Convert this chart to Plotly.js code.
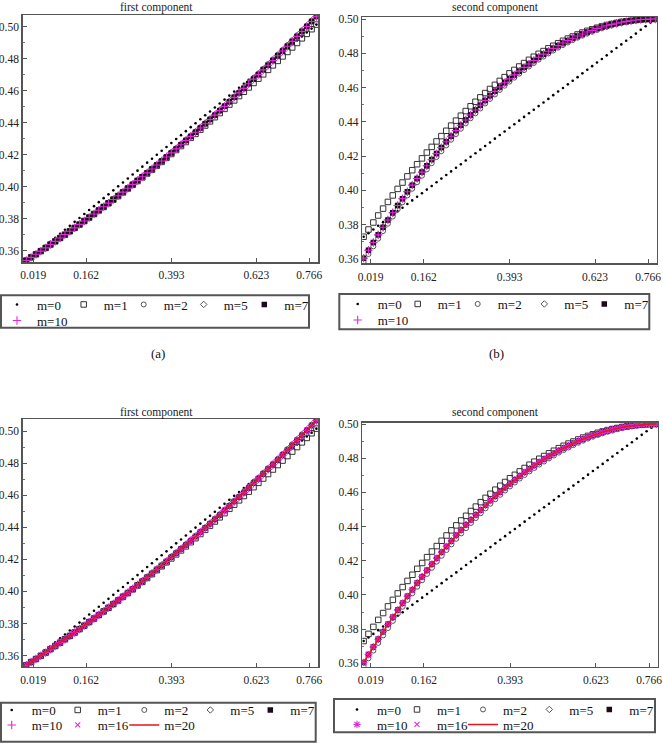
<!DOCTYPE html>
<html>
<head>
<meta charset="utf-8">
<script src="https://cdn.plot.ly/plotly-3.0.1.min.js"></script>
<style>html,body{margin:0;padding:0;background:#fff;}#chart{width:663px;height:747px;}</style>
</head>
<body>
<div id="chart"></div>
<script>
// ---------------- data ----------------
const xValues = [0,0.0131,0.0262,0.0393,0.0524,0.0654,0.0785,0.0916,0.1047,0.1178,0.1309,0.1440,0.1571,0.1702,0.1833,0.1963,0.2094,0.2225,0.2356,0.2487,0.2618,0.2749,0.2880,0.3011,0.3142,0.3272,0.3403,0.3534,0.3665,0.3796,0.3927,0.4058,0.4189,0.4320,0.4451,0.4581,0.4712,0.4843,0.4974,0.5105,0.5236,0.5367,0.5498,0.5629,0.5760,0.5890,0.6021,0.6152,0.6283,0.6414,0.6545,0.6676,0.6807,0.6938,0.7069,0.7199,0.7330,0.7461,0.7592,0.7723,0.7854];

// first component
const firstM0 = [0.3535,0.3560,0.3584,0.3609,0.3634,0.3658,0.3683,0.3708,0.3732,0.3757,0.3782,0.3806,0.3831,0.3856,0.3880,0.3905,0.3930,0.3954,0.3979,0.4004,0.4028,0.4053,0.4078,0.4102,0.4127,0.4152,0.4176,0.4201,0.4226,0.4250,0.4275,0.4300,0.4324,0.4349,0.4374,0.4398,0.4423,0.4448,0.4472,0.4497,0.4522,0.4546,0.4571,0.4596,0.4620,0.4645,0.4670,0.4694,0.4719,0.4744,0.4768,0.4793,0.4818,0.4842,0.4867,0.4892,0.4916,0.4941,0.4966,0.4990,0.5015];
const firstM1 = [0.3540,0.3560,0.3579,0.3599,0.3619,0.3640,0.3660,0.3681,0.3702,0.3723,0.3744,0.3765,0.3787,0.3809,0.3831,0.3853,0.3875,0.3898,0.3921,0.3943,0.3966,0.3990,0.4013,0.4037,0.4060,0.4084,0.4108,0.4133,0.4157,0.4182,0.4206,0.4231,0.4256,0.4281,0.4307,0.4332,0.4358,0.4384,0.4410,0.4436,0.4462,0.4488,0.4515,0.4541,0.4568,0.4595,0.4622,0.4650,0.4677,0.4704,0.4732,0.4760,0.4788,0.4816,0.4844,0.4872,0.4900,0.4929,0.4957,0.4986,0.5015];
const firstM2 = [0.3540,0.3560,0.3579,0.3599,0.3619,0.3640,0.3660,0.3681,0.3702,0.3723,0.3746,0.3768,0.3789,0.3811,0.3833,0.3856,0.3878,0.3901,0.3924,0.3947,0.3970,0.3994,0.4018,0.4042,0.4066,0.4090,0.4114,0.4139,0.4164,0.4189,0.4217,0.4242,0.4268,0.4294,0.4320,0.4346,0.4373,0.4399,0.4426,0.4453,0.4481,0.4508,0.4536,0.4564,0.4592,0.4623,0.4652,0.4681,0.4709,0.4739,0.4768,0.4797,0.4827,0.4857,0.4887,0.4917,0.4948,0.4979,0.5008,0.5039,0.5068];
const firstHigh = [0.3540,0.3560,0.3579,0.3599,0.3619,0.3640,0.3660,0.3681,0.3702,0.3723,0.3744,0.3766,0.3787,0.3809,0.3831,0.3854,0.3876,0.3899,0.3922,0.3945,0.3968,0.3992,0.4016,0.4040,0.4064,0.4088,0.4112,0.4137,0.4162,0.4187,0.4213,0.4238,0.4264,0.4290,0.4316,0.4342,0.4369,0.4395,0.4422,0.4449,0.4477,0.4504,0.4532,0.4560,0.4588,0.4616,0.4645,0.4674,0.4702,0.4732,0.4761,0.4790,0.4820,0.4850,0.4880,0.4910,0.4941,0.4972,0.5003,0.5034,0.5065];

// second component
const secondM0 = [0.3730,0.3751,0.3772,0.3794,0.3815,0.3836,0.3857,0.3878,0.3899,0.3921,0.3942,0.3963,0.3984,0.4005,0.4026,0.4048,0.4069,0.4090,0.4111,0.4132,0.4153,0.4175,0.4196,0.4217,0.4238,0.4259,0.4280,0.4302,0.4323,0.4344,0.4365,0.4386,0.4407,0.4429,0.4450,0.4471,0.4492,0.4513,0.4534,0.4556,0.4577,0.4598,0.4619,0.4640,0.4661,0.4683,0.4704,0.4725,0.4746,0.4767,0.4788,0.4810,0.4831,0.4852,0.4873,0.4894,0.4915,0.4937,0.4958,0.4979,0.5000];
const secondM1 = [0.3730,0.3772,0.3813,0.3854,0.3894,0.3933,0.3971,0.4009,0.4046,0.4082,0.4118,0.4153,0.4187,0.4221,0.4254,0.4286,0.4317,0.4348,0.4378,0.4407,0.4436,0.4463,0.4491,0.4517,0.4543,0.4568,0.4592,0.4616,0.4639,0.4661,0.4683,0.4703,0.4723,0.4743,0.4762,0.4780,0.4797,0.4813,0.4829,0.4844,0.4859,0.4873,0.4886,0.4898,0.4910,0.4921,0.4931,0.4940,0.4949,0.4957,0.4965,0.4971,0.4977,0.4983,0.4987,0.4991,0.4994,0.4997,0.4999,0.5000,0.5000];
const secondM2 = [0.3583,0.3629,0.3674,0.3719,0.3763,0.3806,0.3848,0.3890,0.3931,0.3971,0.4010,0.4048,0.4086,0.4123,0.4159,0.4195,0.4229,0.4263,0.4296,0.4329,0.4360,0.4391,0.4421,0.4450,0.4478,0.4507,0.4534,0.4560,0.4586,0.4611,0.4635,0.4658,0.4681,0.4702,0.4723,0.4743,0.4763,0.4781,0.4799,0.4816,0.4833,0.4848,0.4863,0.4877,0.4891,0.4903,0.4915,0.4926,0.4936,0.4946,0.4955,0.4962,0.4970,0.4976,0.4982,0.4987,0.4991,0.4994,0.4997,0.4999,0.5000];
const secondHigh = [0.3605,0.3651,0.3696,0.3741,0.3785,0.3828,0.3870,0.3912,0.3952,0.3992,0.4031,0.4070,0.4107,0.4144,0.4180,0.4215,0.4250,0.4284,0.4316,0.4349,0.4380,0.4411,0.4440,0.4469,0.4497,0.4525,0.4552,0.4578,0.4603,0.4628,0.4651,0.4674,0.4696,0.4718,0.4738,0.4758,0.4777,0.4795,0.4812,0.4829,0.4845,0.4860,0.4874,0.4888,0.4901,0.4913,0.4924,0.4934,0.4944,0.4953,0.4961,0.4969,0.4975,0.4981,0.4986,0.4990,0.4994,0.4997,0.4998,0.5000,0.5000];

const seriesNames = ['m=0','m=1','m=2','m=5','m=7','m=10','m=16','m=20'];
const panelTitles = ['first component','second component','first component','second component'];
const panelLabels = ['(a)','(b)'];
const xTickVals = [0.019,0.162,0.393,0.623,0.766];
const xTickText = ['0.019','0.162','0.393','0.623','0.766'];
const yTickVals = [0.36,0.38,0.40,0.42,0.44,0.46,0.48,0.50];
const yTickText = ['0.36','0.38','0.40','0.42','0.44','0.46','0.48','0.50'];

// ---------------- layout helpers ----------------
const W = 663, H = 747;
const FONT = 'Liberation Serif';
const px = v => v / W;
const py = v => 1 - v / H;
const MAG = '#e02ad8';

const firstSeries = [firstM0, firstM1, firstM2, firstHigh, firstHigh, firstHigh, firstHigh, firstHigh];
const secondSeries = [secondM0, secondM1, secondM2, secondHigh, secondHigh, secondHigh, secondHigh, secondHigh];

function styleFor(i, panel) {
  switch (i) {
    case 0: return {mode:'markers', marker:{symbol:'circle', size:2.6, color:'#000'}};
    case 1: return {mode:'markers', marker:{symbol:'square-open', size:5.5, color:'#333', line:{width:1}}};
    case 2: return {mode:'markers', marker:{symbol:'circle-open', size:5, color:'#555', line:{width:1}}};
    case 3: return {mode:'markers', marker:{symbol:'diamond-open', size:5, color:'#555', line:{width:1}}};
    case 4: return {mode:'markers', marker:{symbol:'square', size:5.5, color:'#1a0a1a'}};
    case 5: return {mode:'markers', marker:{symbol: panel === 3 ? 'asterisk-open' : 'cross-thin-open', size:6, color:MAG, line:{width:1.1, color:MAG}}};
    case 6: return {mode:'markers', marker:{symbol:'x-thin-open', size:5, color:MAG, line:{width:1.1, color:MAG}}};
    case 7: return {mode:'lines', line:{color:'#e8141c', width:1.6}};
  }
}

// legend rows per panel; legendwidth per item (controls column spacing)
const panels = [
  {ax:'',  data:firstSeries,  n:6, leg:['legend','legend2'],  lw:[21.7,15,15,15.6,30,30]},
  {ax:'2', data:secondSeries, n:6, leg:['legend3','legend4'], lw:[15,15,21.6,15,30,30]},
  {ax:'3', data:firstSeries,  n:8, leg:['legend5','legend6'], lw:[21,21.6,21,15,30,21,21.6,30]},
  {ax:'4', data:secondSeries, n:8, leg:['legend7','legend8'], lw:[15,21,21.3,15,30,15,21,30]}
];

const traces = [];
panels.forEach((p, pi) => {
  for (let i = 0; i < p.n; i++) {
    const st = styleFor(i, pi);
    traces.push(Object.assign({
      type:'scatter', x:xValues, y:p.data[i], name:seriesNames[i],
      xaxis:'x'+p.ax, yaxis:'y'+p.ax,
      legend: i < 5 ? p.leg[0] : p.leg[1],
      legendwidth: p.lw[i],
      hoverinfo:'skip', cliponaxis:true
    }, st));
  }
});

function xaxis(domain, range, anchor) {
  return {domain:domain.map(px), range:range, anchor:anchor, tickmode:'array', tickvals:xTickVals, ticktext:xTickText,
    showline:true, mirror:true, linecolor:'#555', linewidth:1.5, showgrid:false, zeroline:false,
    ticks:'inside', ticklen:4, tickcolor:'#555', ticklabelstandoff:2,
    tickfont:{family:FONT, size:11.5, color:'#222'}, fixedrange:true};
}
function yaxis(domain, range, anchor) {
  return {domain:[py(domain[1]), py(domain[0])], range:range, anchor:anchor, tickmode:'array', tickvals:yTickVals, ticktext:yTickText,
    showline:true, mirror:true, linecolor:'#555', linewidth:1.5, showgrid:false, zeroline:false,
    ticks:'inside', ticklen:4, tickcolor:'#555', tickfont:{family:FONT, size:11.5, color:'#222'},
    minor:{ticks:'inside', ticklen:2, tickcolor:'#777', dtick:0.01, tick0:0.36}, fixedrange:true};
}

function legendAt(xPix, yPix) {
  return {orientation:'h', x:px(xPix), xanchor:'left', y:py(yPix), yanchor:'middle',
    bgcolor:'rgba(0,0,0,0)', borderwidth:0, font:{family:FONT, size:13, color:'#111'},
    traceorder:'normal', itemclick:false, itemdoubleclick:false, entrywidthmode:'pixels'};
}

const boxes = [[1,295.3,309,327.7],[339.3,294,649.3,329.3],[1,702.7,315.7,741.7],[334,699,655,732.3]];
const shapes = boxes.map(b => ({type:'rect', xref:'paper', yref:'paper', x0:px(b[0]), x1:px(b[2]), y0:py(b[3]), y1:py(b[1]), line:{color:'#555', width:2}, fillcolor:'rgba(0,0,0,0)'}));

const titlePos = [[156,7],[495,7],[156,412],[495,412]];
const annotations = panelTitles.map((t, i) => ({text:t, xref:'paper', yref:'paper', x:px(titlePos[i][0]), y:py(titlePos[i][1]), xanchor:'center', yanchor:'middle', showarrow:false, font:{family:FONT, size:11.5, color:'#222'}}));
const labelPos = [[158,353],[496,353]];
panelLabels.forEach((t, i) => annotations.push({text:t, xref:'paper', yref:'paper', x:px(labelPos[i][0]), y:py(labelPos[i][1]), xanchor:'center', yanchor:'middle', showarrow:false, font:{family:FONT, size:13, color:'#111'}}));

const layout = {
  width:W, height:H, paper_bgcolor:'#fff', plot_bgcolor:'#fff',
  font:{family:FONT},
  margin:{l:0, r:0, t:0, b:0, autoexpand:false},
  showlegend:true,
  xaxis: xaxis([22.7,318.3], [-0.0097,0.7905], 'y'),
  yaxis: yaxis([15.3,262], [0.3531,0.5073], 'x'),
  xaxis2: xaxis([362.3,656.7], [-0.0035,0.789], 'y2'),
  yaxis2: yaxis([17.3,263.3], [0.3575,0.501], 'x2'),
  xaxis3: xaxis([22.7,318.3], [-0.0097,0.7905], 'y3'),
  yaxis3: yaxis([419,666.7], [0.3531,0.5075], 'x3'),
  xaxis4: xaxis([362.3,657.7], [-0.0035,0.789], 'y4'),
  yaxis4: yaxis([422.7,666.7], [0.358,0.5008], 'x4'),
  legend: legendAt(-3, 304.5),
  legend2: legendAt(-3, 320.5),
  legend3: legendAt(337.7, 304),
  legend4: legendAt(337.7, 320),
  legend5: legendAt(-8.3, 710),
  legend6: legendAt(-8.3, 725),
  legend7: legendAt(337, 709.5),
  legend8: legendAt(337, 724.5),
  shapes: shapes,
  annotations: annotations
};

Plotly.newPlot('chart', traces, layout, {displayModeBar:false, staticPlot:true});
</script>
</body>
</html>
